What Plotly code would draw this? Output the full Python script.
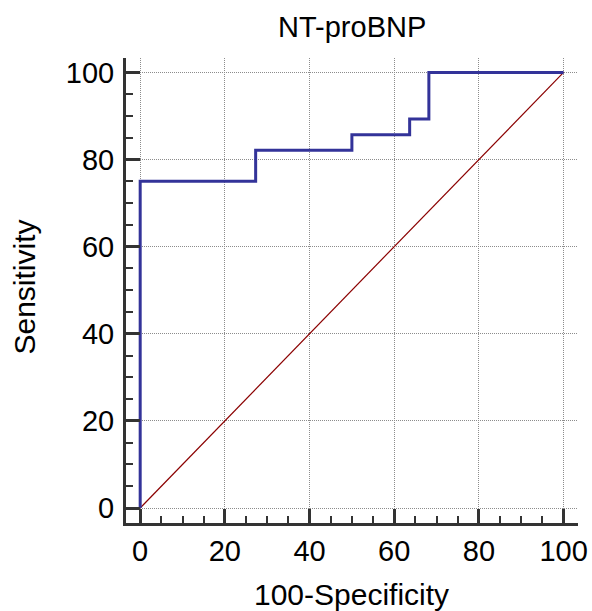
import plotly.graph_objects as go

# ROC curve data (100-Specificity, Sensitivity)
fpr = [0, 0, 27.27, 27.27, 50.0, 50.0, 63.64, 63.64, 68.18, 68.18, 100]
tpr = [0, 75.0, 75.0, 82.14, 82.14, 85.71, 85.71, 89.29, 89.29, 100, 100]
diag_x = [0, 100]
diag_y = [0, 100]
tick_vals = [0, 20, 40, 60, 80, 100]
tick_text = ["0", "20", "40", "60", "80", "100"]

FONT = "Liberation Sans, Arial, sans-serif"

fig = go.Figure()
fig.add_trace(go.Scatter(x=diag_x, y=diag_y, mode="lines",
                         line=dict(color="#8B0000", width=1.2), hoverinfo="skip"))
fig.add_trace(go.Scatter(x=fpr, y=tpr, mode="lines",
                         line=dict(color="#333399", width=3), hoverinfo="skip"))

axis_common = dict(
    tickmode="array", tickvals=tick_vals, ticktext=tick_text,
    showgrid=True, gridcolor="#8C8C8C", gridwidth=1, griddash="1px,1px",
    zeroline=False, showline=True, linecolor="#333333", linewidth=3,
    ticks="inside", ticklen=14, tickwidth=3, tickcolor="#333333",
    minor=dict(dtick=5, ticks="inside", ticklen=7, tickwidth=2,
               tickcolor="#333333", showgrid=False),
    tickfont=dict(family=FONT, size=29, color="black"),
    automargin=False,
)

fig.update_layout(
    width=592, height=611,
    margin=dict(l=126, r=14, t=58, b=88),
    paper_bgcolor="white", plot_bgcolor="white",
    showlegend=False,
    xaxis=dict(range=[-3.35, 103.4], ticklabelstandoff=0, **axis_common),
    yaxis=dict(range=[-3.44, 103.3], ticklabelstandoff=3, **axis_common),
    annotations=[
        dict(text="NT-proBNP", xref="paper", yref="paper", x=0.5, y=1.067,
             xanchor="center", yanchor="middle", showarrow=False,
             font=dict(family=FONT, size=29, color="black")),
        dict(text="100-Specificity", xref="paper", yref="paper", x=0.498, y=-0.153,
             xanchor="center", yanchor="middle", showarrow=False,
             font=dict(family=FONT, size=30, color="black")),
        dict(text="Sensitivity", xref="paper", yref="paper", x=-0.225, y=0.507,
             xanchor="center", yanchor="middle", showarrow=False, textangle=-90,
             font=dict(family=FONT, size=30, color="black")),
    ],
)

fig.write_html("out.html", config={"displayModeBar": False},
               post_script="document.body.style.margin='0px';")
